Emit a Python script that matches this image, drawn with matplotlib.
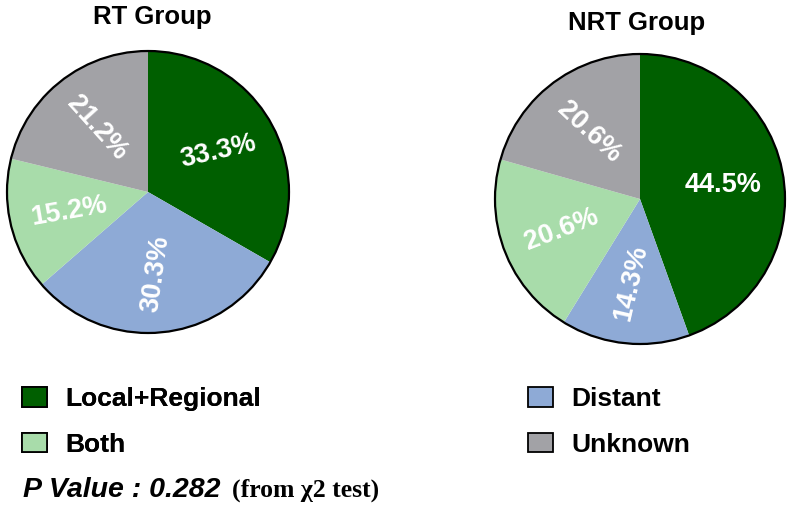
import matplotlib
matplotlib.use("Agg")
import matplotlib.pyplot as plt
from matplotlib.patches import Patch, Circle

plt.rcParams['font.family'] = ['Liberation Sans', 'DejaVu Sans']

categories = ["Local+Regional", "Distant", "Both", "Unknown"]
colors = ["#005f00", "#8eaad6", "#a8dcaa", "#a2a2a6"]
rt_values = [33.3, 30.3, 15.2, 21.2]
nrt_values = [44.5, 14.3, 20.6, 20.6]
rt_rot = [13, 82, 10, -48]
nrt_rot = [0, 77, 21, -43]

W, H = 787, 519
fig = plt.figure(figsize=(W / 100, H / 100), dpi=100)


def draw_pie(cx, cy, r, values, rots):
    ax = fig.add_axes([(cx - r) / W, (H - cy - r) / H, 2 * r / W, 2 * r / H])
    wedges, texts, autotexts = ax.pie(values, colors=colors, startangle=90,
                                      counterclock=False, normalize=True,
                                      autopct='%.1f%%', pctdistance=0.58,
                                      wedgeprops=dict(linewidth=0))
    for t, rot in zip(autotexts, rots):
        t.set_color("white")
        t.set_fontsize(19.5)
        t.set_fontweight("bold")
        t.set_rotation(rot)
    ax.add_patch(Circle((0, 0), 1, fill=False, lw=1.6, ec="black", clip_on=False))
    ax.set_xlim(-1, 1)
    ax.set_ylim(-1, 1)
    return ax


draw_pie(148, 192, 141, rt_values, rt_rot)
draw_pie(640, 199, 145, nrt_values, nrt_rot)

fig.text(152 / W, 1 - 17 / H, "RT Group", ha="center", va="center",
         fontsize=18.5, fontweight="bold")
fig.text(637 / W, 1 - 23 / H, "NRT Group", ha="center", va="center",
         fontsize=18.5, fontweight="bold")

handles = [Patch(facecolor=c, edgecolor="black", linewidth=1.3) for c in colors]
leg_kw = dict(loc="center left", bbox_transform=fig.transFigure, frameon=False,
              borderpad=0, borderaxespad=0, handlelength=0.93, handleheight=0.77,
              handletextpad=0.7, labelspacing=0.8,
              prop=dict(size=19, weight="bold"))
leg1 = fig.legend([handles[0], handles[2]], [categories[0], categories[2]],
                  bbox_to_anchor=(22 / W, 1 - 422 / H), **leg_kw)
fig.add_artist(leg1)
fig.legend([handles[1], handles[3]], [categories[1], categories[3]],
           bbox_to_anchor=(528 / W, 1 - 422 / H), **leg_kw)

fig.text(23 / W, 1 - 497 / H, "P Value : 0.282", fontsize=20.5,
         fontweight="bold", fontstyle="italic", va="baseline")
fig.text(232 / W, 1 - 497 / H, "(from χ2 test)", fontsize=18.5,
         fontweight="bold", va="baseline",
         family=["Liberation Serif", "DejaVu Serif"])

fig.savefig("out.png", dpi=100)
